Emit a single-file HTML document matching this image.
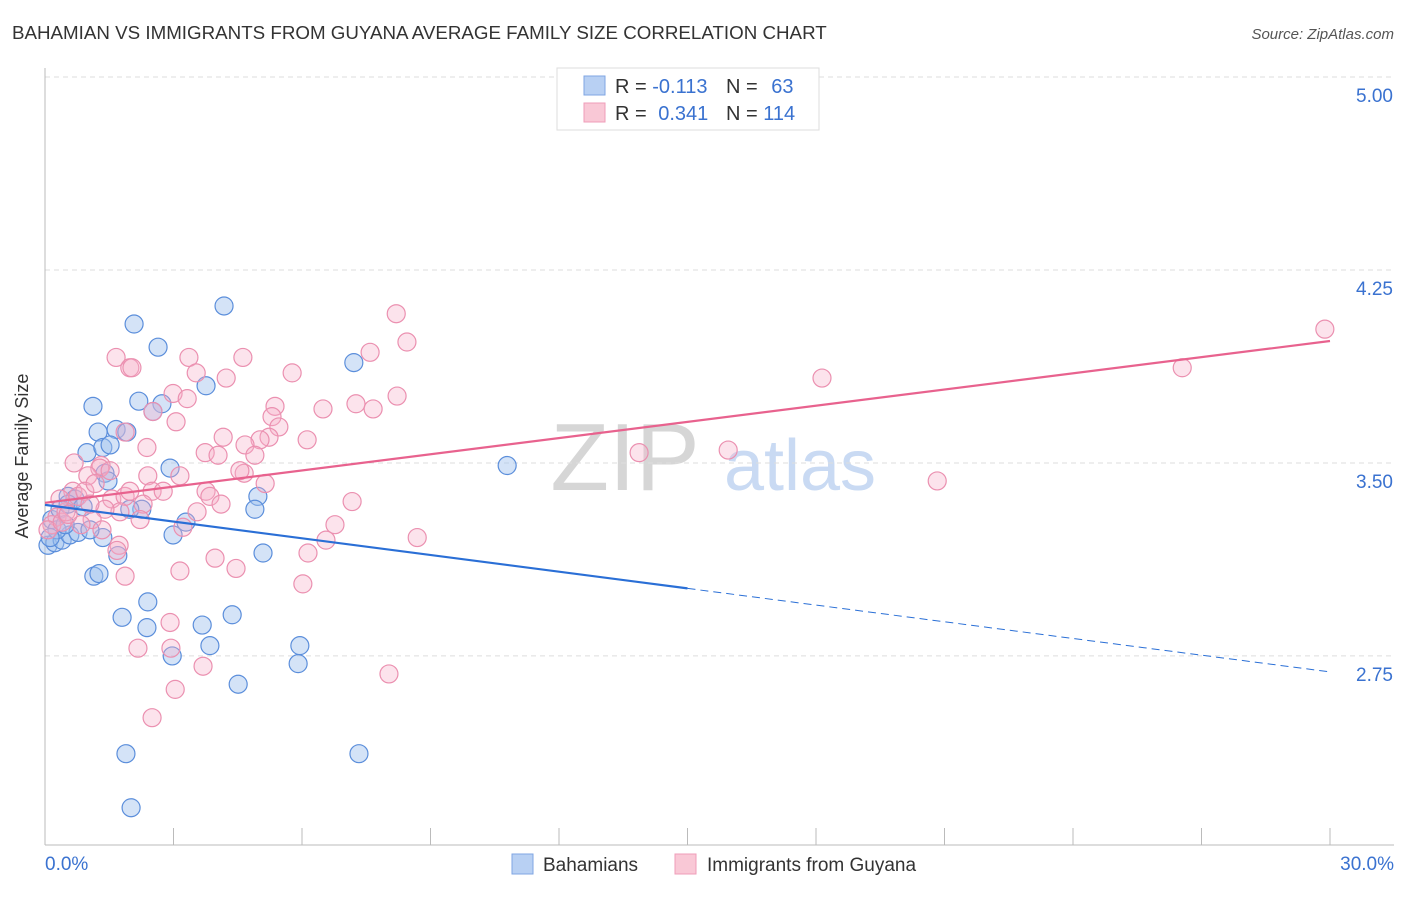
<!DOCTYPE html>
<html><head><meta charset="utf-8">
<style>
body{margin:0;background:#fff;font-family:"Liberation Sans",sans-serif;}
svg text{font-family:"Liberation Sans",sans-serif;}
</style></head>
<body>
<svg id="chart" width="1406" height="892" viewBox="0 0 1406 892" xmlns="http://www.w3.org/2000/svg">
<text x="12" y="39" font-size="18.75" fill="#333">BAHAMIAN VS IMMIGRANTS FROM GUYANA AVERAGE FAMILY SIZE CORRELATION CHART</text>
<text x="1394" y="39" font-size="15" fill="#555" text-anchor="end" font-style="italic">Source: ZipAtlas.com</text>
<g>
<text x="625" y="490" font-size="96" fill="#d6d6d6" text-anchor="middle" font-family="Liberation Serif, serif">ZIP</text>
<text x="800" y="490" font-size="72" fill="#c9daf3" text-anchor="middle">atlas</text>
</g>
<g id="grid"></g>
<g id="axes"></g>
<g id="pts"></g>
<g id="trends"></g>
<text x="28" y="456" font-size="18" fill="#333" text-anchor="middle" transform="rotate(-90 28 456)">Average Family Size</text>
<g>
<rect x="557" y="68" width="262" height="62" fill="#fff" stroke="#ddd"/>
<rect x="584" y="76" width="21" height="19" fill="#b8d0f3" stroke="#7fa6e3"/>
<rect x="584" y="103" width="21" height="19" fill="#f9c8d6" stroke="#ef9db8"/>
<text x="615" y="93" font-size="20" fill="#333">R = <tspan fill="#3a72d0">-0.113</tspan></text>
<text x="726" y="93" font-size="20" fill="#333">N = <tspan fill="#3a72d0" dx="8">63</tspan></text>
<text x="615" y="120" font-size="20" fill="#333">R = <tspan fill="#3a72d0" dx="6">0.341</tspan></text>
<text x="726" y="120" font-size="20" fill="#333">N = <tspan fill="#3a72d0">114</tspan></text>
</g>
<g>
<rect x="512" y="854" width="21" height="20" fill="#b8d0f3" stroke="#7fa6e3"/>
<text x="543" y="871" font-size="19" fill="#333">Bahamians</text>
<rect x="675" y="854" width="21" height="20" fill="#f9c8d6" stroke="#ef9db8"/>
<text x="707" y="871" font-size="19" fill="#333">Immigrants from Guyana</text>
</g>
</svg>
<script>
const NS='http://www.w3.org/2000/svg';
const blueX=[4.18,2.08,2.64,7.21,3.76,1.12,2.19,2.73,2.52,1.66,1.24,1.91,0.98,1.35,1.52,2.92,1.40,1.47,10.79,0.54,4.97,4.90,2.26,1.98,3.29,2.99,1.35,5.09,1.70,0.07,0.23,0.40,0.58,0.77,0.16,0.35,0.70,1.14,1.26,1.80,2.40,2.38,3.67,4.37,2.97,3.85,5.95,5.91,4.51,1.89,2.01,7.33,0.54,0.89,1.05,0.28,0.12,0.47];
const blueY=[4.11,4.04,3.95,3.89,3.80,3.72,3.74,3.73,3.70,3.63,3.62,3.62,3.54,3.56,3.57,3.48,3.46,3.43,3.49,3.37,3.37,3.32,3.32,3.32,3.27,3.22,3.21,3.15,3.14,3.18,3.19,3.20,3.22,3.23,3.28,3.32,3.36,3.06,3.07,2.90,2.96,2.86,2.87,2.91,2.75,2.79,2.79,2.72,2.64,2.37,2.16,2.37,3.34,3.33,3.24,3.24,3.21,3.26];
const pinkX=[29.88,26.55,18.14,20.83,15.95,13.87,8.20,8.45,7.59,4.62,3.36,1.66,1.98,2.03,5.77,3.53,4.23,2.99,3.32,8.22,7.26,7.66,6.49,2.52,5.37,5.30,3.06,5.46,5.23,6.12,4.16,5.02,4.67,2.38,3.74,4.04,1.87,1.31,0.68,1.28,1.00,3.15,2.40,4.65,3.76,5.14,3.85,2.50,2.76,0.65,1.56,1.87,0.77,4.11,7.17,3.55,2.29,1.75,1.40,1.10,0.84,6.77,3.22,0.28,0.16,0.07,0.40,0.49,1.33,8.69,6.56,6.14,3.97,1.73,1.68,1.87,3.15,4.46,6.02,2.92,2.17,2.94,3.69,3.04,8.03,2.50,0.35,0.93,1.17,1.52,1.98,0.54,1.05,2.22,4.90,4.55];
const pinkY=[4.02,3.87,3.83,3.43,3.55,3.54,4.08,3.97,3.93,3.91,3.91,3.91,3.87,3.87,3.85,3.85,3.83,3.77,3.75,3.76,3.73,3.71,3.71,3.70,3.72,3.68,3.66,3.64,3.60,3.59,3.60,3.59,3.57,3.56,3.54,3.53,3.62,3.49,3.50,3.48,3.45,3.45,3.45,3.46,3.39,3.42,3.37,3.39,3.39,3.39,3.36,3.37,3.37,3.34,3.35,3.31,3.34,3.31,3.32,3.28,3.26,3.26,3.25,3.29,3.26,3.24,3.27,3.31,3.24,3.21,3.20,3.15,3.13,3.18,3.16,3.06,3.08,3.09,3.03,2.88,2.78,2.78,2.71,2.62,2.68,2.51,3.36,3.39,3.42,3.47,3.39,3.30,3.34,3.28,3.53,3.47];
const yTicks=[5.00,4.25,3.50,2.75];
const yTickLabels=['5.00','4.25','3.50','2.75'];
const xTicks=[0,3,6,9,12,15,18,21,24,27,30];
const blueTrend=[3.337,2.688]; // value at x=0 and x=30
const pinkTrend=[3.345,3.974];
const blueSolidEnd=15;
const X=v=>45+v/30*1285;
const Y=v=>77+(5-v)*257.3;
function mk(tag,attrs,parent){const e=document.createElementNS(NS,tag);for(const k in attrs)e.setAttribute(k,attrs[k]);parent.appendChild(e);return e;}
const grid=document.getElementById('grid'),axes=document.getElementById('axes'),pts=document.getElementById('pts'),tr=document.getElementById('trends');
yTicks.forEach((t,i)=>{
 const l=mk('line',{x1:45,x2:1394,y1:Y(t),y2:Y(t),stroke:'#ddd','stroke-dasharray':'5,4'},grid);
 
 
 const tx=mk('text',{x:1393,y:Y(t)+25,'font-size':19,fill:'#3a72d0','text-anchor':'end'},axes);
 tx.textContent=yTickLabels[i];
 
 
});
const ya=mk('line',{x1:45,x2:45,y1:68,y2:845,stroke:'#bbb'},axes);


const xa=mk('line',{x1:45,x2:1394,y1:845,y2:845,stroke:'#bbb'},axes);


xTicks.forEach(t=>{
 const l=mk('line',{x1:X(t),x2:X(t),y1:828,y2:845,stroke:'#bbb'},axes);
 
 
});
const xl0=mk('text',{x:45,y:870,'font-size':19,fill:'#3a72d0'},axes);xl0.textContent='0.0%';


const xl1=mk('text',{x:1394,y:870,'font-size':19,fill:'#3a72d0','text-anchor':'end'},axes);xl1.textContent='30.0%';


blueX.forEach((x,i)=>{
 const c=mk('circle',{cx:X(x),cy:Y(blueY[i]),r:9,fill:'rgba(160,192,238,0.45)',stroke:'#5b8edb','stroke-width':1.2},pts);
 
 
});
pinkX.forEach((x,i)=>{
 const c=mk('circle',{cx:X(x),cy:Y(pinkY[i]),r:9,fill:'rgba(246,176,200,0.35)',stroke:'#eb90b0','stroke-width':1.2},pts);
 
 
});
const bAt=x=>blueTrend[0]+(blueTrend[1]-blueTrend[0])*x/30;
const b1=mk('line',{x1:X(0),y1:Y(bAt(0)),x2:X(blueSolidEnd),y2:Y(bAt(blueSolidEnd)),stroke:'#2a6fd6','stroke-width':2.2},tr);


const b2=mk('line',{x1:X(blueSolidEnd),y1:Y(bAt(blueSolidEnd)),x2:X(30),y2:Y(bAt(30)),stroke:'#2a6fd6','stroke-width':1,'stroke-dasharray':'8,5'},tr);


const p1=mk('line',{x1:X(0),y1:Y(pinkTrend[0]),x2:X(30),y2:Y(pinkTrend[1]),stroke:'#e8628e','stroke-width':2.2},tr);


</script>
</body></html>
